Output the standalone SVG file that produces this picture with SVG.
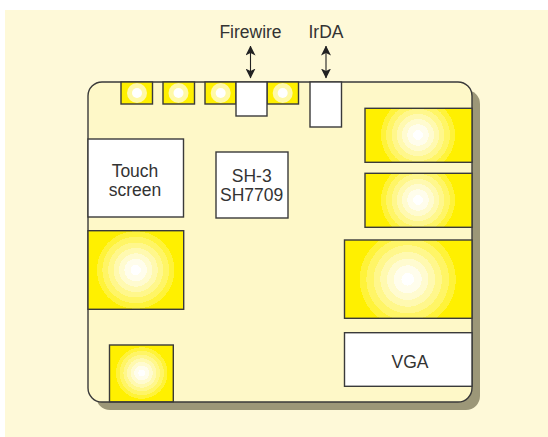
<svg xmlns="http://www.w3.org/2000/svg" width="548" height="437" viewBox="0 0 548 437">
<style>
.n{stroke:#3a3a3a;stroke-width:1.4}
.w{fill:#fff}
.y{fill:#fff000}
text{font-family:"Liberation Sans",Arial,sans-serif;font-size:17.5px;fill:#333;text-anchor:middle}
.a{stroke:#222;stroke-width:1.1;fill:none;marker-start:url(#h);marker-end:url(#h)}
</style>
<defs>
<radialGradient id="g">
<stop offset="0.13" stop-color="#fff"/><stop offset="0.13" stop-color="#fffdec"/>
<stop offset="0.29" stop-color="#fffdec"/><stop offset="0.29" stop-color="#fffbd0"/>
<stop offset="0.43" stop-color="#fffbd0"/><stop offset="0.43" stop-color="#fff9b0"/>
<stop offset="0.57" stop-color="#fff9b0"/><stop offset="0.57" stop-color="#fff78c"/>
<stop offset="0.71" stop-color="#fff78c"/><stop offset="0.71" stop-color="#fff566"/>
<stop offset="0.86" stop-color="#fff566"/><stop offset="0.86" stop-color="#fff33a"/>
<stop offset="1" stop-color="#fff33a"/><stop offset="1" stop-color="#fff000"/>
</radialGradient>
<radialGradient id="g1" href="#g" gradientUnits="userSpaceOnUse" cx="418" cy="135" r="37"/>
<radialGradient id="g2" href="#g" gradientUnits="userSpaceOnUse" cx="418" cy="200" r="37"/>
<radialGradient id="g3" href="#g" gradientUnits="userSpaceOnUse" cx="407.700" cy="279.300" r="48"/>
<radialGradient id="g4" href="#g" gradientUnits="userSpaceOnUse" cx="135.700" cy="270" r="38.700"/>
<radialGradient id="g5" href="#g" gradientUnits="userSpaceOnUse" cx="141.700" cy="373" r="25.700"/>
<marker id="h" viewBox="0 0 10 10" refX="9.500" refY="5" markerWidth="10" markerHeight="10" orient="auto-start-reverse" markerUnits="userSpaceOnUse"><path d="M0 0L10 5L0 10L2.500 5Z" fill="#222"/></marker>
</defs>
<rect x="0" y="0" width="548" height="437" fill="#fff"/>
<rect x="5" y="10" width="543" height="427" fill="#fef9d8"/>
<rect x="96" y="90" width="384" height="320" rx="14" fill="#9c9778"/>
<rect id="board" x="88" y="82" width="384" height="320" rx="14" fill="#fef8c8" stroke="#3a3a3a" stroke-width="1.4"/>
<g id="connectors">
<path class="a" d="M250.500 46V78"/>
<path class="a" d="M326 46V78"/>
</g>
<g id="led1"><rect class="n y" x="121" y="82" width="31.500" height="22"/><circle cx="137" cy="93" r="10" fill="#fff9a8"/><circle cx="137" cy="93" r="5" fill="#fff"/></g>
<g id="led2"><rect class="n y" x="163" y="82" width="31.500" height="22"/><circle cx="178.500" cy="93" r="10" fill="#fff9a8"/><circle cx="178.500" cy="93" r="5" fill="#fff"/></g>
<g id="led3"><rect class="n y" x="205" y="82" width="31" height="22"/><circle cx="220.700" cy="93" r="10" fill="#fff9a8"/><circle cx="220.700" cy="93" r="5" fill="#fff"/></g>
<g id="led4"><rect class="n y" x="267" y="82" width="31.500" height="22"/><circle cx="282.700" cy="93" r="10" fill="#fff9a8"/><circle cx="282.700" cy="93" r="5" fill="#fff"/></g>
<g id="firewire"><rect class="n w" x="236" y="82" width="31" height="34"/><text x="250.500" y="38">Firewire</text></g>
<g id="irda"><rect class="n w" x="310" y="82" width="31.500" height="45"/><text x="326" y="38">IrDA</text></g>
<g id="touch"><rect class="n w" x="88" y="139" width="95.500" height="78"/><text x="135" y="176.700">Touch</text><text x="135" y="196">screen</text></g>
<g id="cpu"><rect class="n w" x="216" y="152" width="72" height="66"/><text x="251.700" y="181.700">SH-3</text><text x="251.700" y="201">SH7709</text></g>
<g id="p1"><rect class="n" x="365" y="108.300" width="107" height="54" fill="url(#g1)"/></g>
<g id="p2"><rect class="n" x="365" y="173.300" width="107" height="54" fill="url(#g2)"/></g>
<g id="p3"><rect class="n" x="344.500" y="240" width="127.500" height="78.300" fill="url(#g3)"/></g>
<g id="vga"><rect class="n w" x="344.500" y="332.700" width="127.500" height="53.600"/><text x="410" y="368">VGA</text></g>
<g id="p4"><rect class="n" x="88" y="230.700" width="95.700" height="78.600" fill="url(#g4)"/></g>
<g id="p5"><rect class="n" x="109.500" y="345" width="63.800" height="56.800" fill="url(#g5)"/></g>
</svg>
